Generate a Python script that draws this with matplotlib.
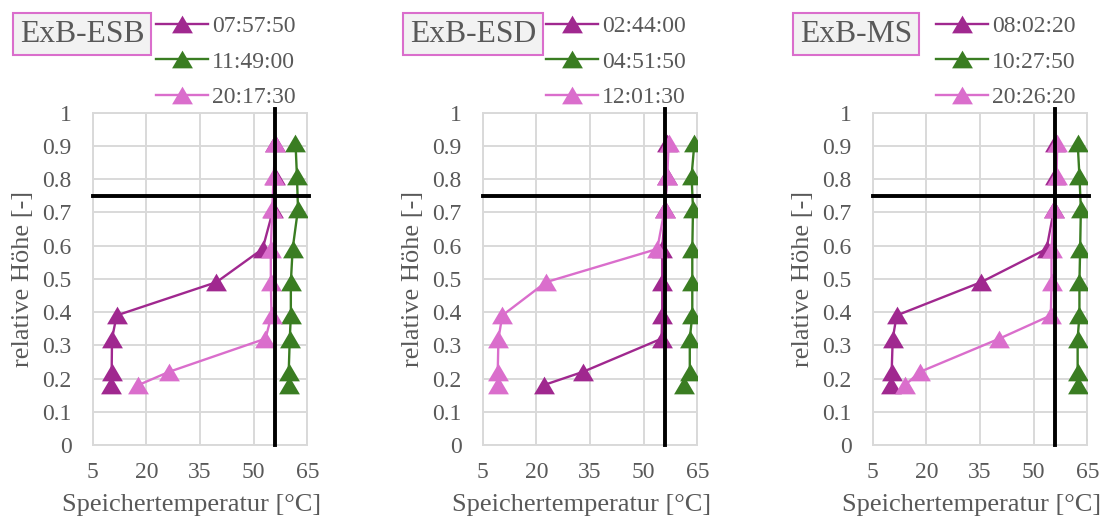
import matplotlib
matplotlib.use("Agg")
import matplotlib.pyplot as plt
from matplotlib.path import Path

# relative Höhe der Messstellen im Speicher
hoehe = [0.18, 0.22, 0.32, 0.39, 0.49, 0.59, 0.71, 0.81, 0.91]

speicher = ["ExB-ESB", "ExB-ESD", "ExB-MS"]

zeiten_esb = ["07:57:50", "11:49:00", "20:17:30"]
temp_esb_1 = [10.0, 10.3, 10.4, 11.7, 39.6, 52.5, 55.5, 56.0, 56.0]
temp_esb_2 = [59.8, 59.8, 60.1, 60.4, 60.4, 60.9, 62.4, 62.1, 61.7]
temp_esb_3 = [17.7, 26.3, 53.3, 55.0, 54.8, 54.8, 55.2, 55.6, 56.1]

zeiten_esd = ["02:44:00", "04:51:50", "12:01:30"]
temp_esd_1 = [22.0, 33.0, 55.0, 55.2, 55.2, 55.2, 56.0, 56.5, 56.5]
temp_esd_2 = [61.2, 62.9, 62.9, 63.6, 63.6, 63.6, 63.8, 63.4, 64.2]
temp_esd_3 = [9.2, 9.2, 9.4, 10.5, 22.7, 53.8, 55.9, 56.6, 57.0]

zeiten_ms = ["08:02:20", "10:27:50", "20:26:20"]
temp_ms_1 = [10.1, 10.3, 10.6, 11.7, 35.3, 53.6, 55.7, 56.0, 56.0]
temp_ms_2 = [62.3, 62.3, 62.3, 62.8, 62.8, 63.0, 63.2, 62.8, 62.3]
temp_ms_3 = [14.0, 18.2, 40.4, 54.8, 55.0, 55.0, 55.7, 56.4, 56.6]

# Grenzlinien
grenz_temp = 56
grenz_hoehe = 0.75

x_ticks = [5, 20, 35, 50, 65]
y_ticks = [0, 0.1, 0.2, 0.3, 0.4, 0.5, 0.6, 0.7, 0.8, 0.9, 1]

farben = ["#A0288F", "#3A7D22", "#DA6ECC"]
grau = "#595959"
gitter = "#D9D9D9"

plt.rcParams['font.family'] = ['Liberation Serif', 'DejaVu Serif']

W, H = 1108, 517
fig = plt.figure(figsize=(W / 100, H / 100), dpi=100)

dreieck = Path([(-1, -0.85), (1, -0.85), (0, 0.85), (-1, -0.85)],
               [Path.MOVETO, Path.LINETO, Path.LINETO, Path.CLOSEPOLY])

daten = [
    (zeiten_esb, [temp_esb_1, temp_esb_2, temp_esb_3]),
    (zeiten_esd, [temp_esd_1, temp_esd_2, temp_esd_3]),
    (zeiten_ms, [temp_ms_1, temp_ms_2, temp_ms_3]),
]

links = [92.7, 482.7, 872.7]
breite = 214.6
oben, unten = 112.7, 445

for name, (zeiten, reihen), l in zip(speicher, daten, links):
    ax = fig.add_axes([l / W, 1 - unten / H, breite / W, (unten - oben) / H])
    for t, temps, c in zip(zeiten, reihen, farben):
        ax.plot(temps, hoehe, color=c, lw=1.7, marker=dreieck, markersize=15,
                markeredgewidth=0, label=t, zorder=3)
    ax.plot([grenz_temp, grenz_temp], [0, 1.01], color="black", lw=2.8,
            clip_on=False, zorder=4)
    ax.plot([5, 65.5], [grenz_hoehe, grenz_hoehe], color="black", lw=2.8,
            clip_on=False, zorder=4)

    ax.set_xlim(5, 65)
    ax.set_ylim(0, 1)
    ax.set_xticks(x_ticks)
    ax.set_yticks(y_ticks)
    ax.set_yticklabels([f"{v:g}" for v in y_ticks])
    ax.grid(True, color=gitter, lw=1.4)
    ax.set_axisbelow(True)
    for s in ax.spines.values():
        s.set_color(gitter)
        s.set_linewidth(1.4)
    ax.tick_params(length=0, labelsize=17, colors=grau)
    ax.tick_params(axis='y', pad=15)
    ax.tick_params(axis='x', pad=12)

    ax.set_xlabel("Speichertemperatur [°C]", fontsize=19, color=grau)
    ax.xaxis.set_label_coords(0.461, -0.18)
    ax.xaxis.label.set_va('center')
    ax.set_ylabel("relative Höhe [-]", fontsize=19, color=grau)
    ax.yaxis.set_label_coords(-0.325, 0.501)
    ax.yaxis.label.set_va('center')

    # Speichername im Kasten links oben
    fig.text((l - 80 + 7) / W, 1 - 34 / H, name, fontsize=22.8, color=grau,
             ha='left', va='center',
             bbox=dict(boxstyle='square,pad=0.22', facecolor='#F2F2F2',
                       edgecolor='#DA6ECC', lw=1.5))

    ax.legend(loc='upper left', bbox_to_anchor=((l + 63.3) / W, 1 - 15.5 / H),
              bbox_transform=fig.transFigure, frameon=False, fontsize=17,
              labelcolor=grau, handlelength=2.2, handletextpad=0.17,
              borderpad=0, borderaxespad=0, labelspacing=0.6)

fig.savefig("out.png", dpi=100)
